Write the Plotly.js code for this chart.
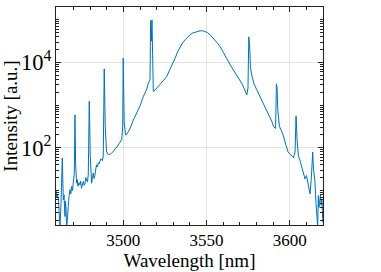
<!DOCTYPE html>
<html>
<head>
<meta charset="utf-8">
<script src="https://cdn.plot.ly/plotly-3.0.1.min.js"></script>
<style>html,body{margin:0;padding:0;background:#fff;}#chart{width:381px;height:272px;}</style>
</head>
<body>
<div id="chart"></div>
<script>
// Wavelength [nm]
const wavelength = [
3459.5,3459.9,3460.3,3460.9,3461.4,3461.9,3462.5,3463.3,3463.9,3464.3,3464.9,3465.2,3465.5,3465.9,3466.4,3466.9,3467.3,3467.9,
3468.4,3468.9,3469.4,3469.9,3470.5,3470.9,3471.3,3471.9,3472.3,3472.7,3473.3,3473.9,3474.3,3474.8,3475.3,3475.9,3476.4,3476.9,3477.4,3477.9,3478.4,3478.9,3479.5,3480.1,
3480.5,3480.9,3481.4,3481.9,3482.4,3482.9,3483.4,3483.9,3484.4,3484.9,3485.4,3485.9,3486.4,3486.9,3487.4,3487.9,3488.5,3489.1,3489.9,3490.9,3491.9,3492.9,3493.9,3494.9,
3496.2,3497.4,3498.3,3499.0,3499.6,3499.9,3500.5,3501.3,3502.0,3504.0,3506.0,3508.0,3510.0,3512.0,3514.1,3515.0,3516.0,
3516.4,3516.8,3517.2,3517.5,3518.0,3519.0,3520.5,3522.0,3524.0,3526.1,3528.1,3529.6,3531.1,3532.6,3534.1,3535.6,3537.1,3538.6,3540.1,3541.6,3543.1,3544.6,3546.1,3547.6,3549.1,3550.6,
3552.1,3553.6,3555.1,3556.6,3558.1,3559.6,3561.1,3562.6,3564.1,3565.6,3567.1,3568.6,3570.1,3571.3,3572.5,3573.4,3574.2,3574.9,3575.4,3575.9,3576.4,3577.1,3578.5,3580.2,
3582.1,3584.1,3586.2,3588.2,3589.2,3590.2,3591.5,3592.0,3592.4,3592.8,3593.8,3594.8,3596.2,3597.8,3599.0,3600.2,3601.2,
3602.2,3603.2,3603.8,3604.4,3605.2,3606.2,3606.8,3607.4,3608.3,3609.2,3610.1,3610.6,3611.2,3612.2,3613.0,3613.8,3614.3,3615.2,3615.8,
3616.2,3616.8,3617.2,3617.6,3617.9,3618.5,3618.9,3619.3,3619.9
];
// log10 of intensity [a.u.]
const log10Intensity = [
1.01,0.85,0.90,0.82,0.50,0.15,0.70,1.76,0.78,0.90,0.39,0.75,0.60,0.10,0.50,0.63,0.85,1.02,
0.92,1.09,1.00,1.21,1.40,2.77,1.60,1.17,1.25,1.10,1.18,1.13,1.22,1.05,1.15,1.21,1.12,1.15,1.30,1.25,1.20,1.37,3.09,1.80,
1.35,1.17,1.30,1.41,1.28,1.35,1.50,1.60,1.55,1.65,1.62,1.68,1.74,1.72,1.70,1.80,3.85,2.50,1.91,1.84,1.84,1.88,1.91,1.97,
2.02,2.10,2.14,2.19,2.50,4.10,2.60,2.30,2.31,2.45,2.65,2.81,2.98,3.20,3.38,3.52,3.59,
4.98,4.50,5.00,3.80,3.32,3.35,3.42,3.50,3.58,3.67,3.85,3.96,4.10,4.25,4.375,4.46,4.53,4.60,4.65,4.69,4.71,4.73,4.74,4.745,4.73,4.70,
4.65,4.59,4.52,4.45,4.375,4.28,4.17,4.06,3.95,3.86,3.77,3.68,3.59,3.50,3.40,3.33,3.24,3.40,4.60,4.40,3.90,3.71,3.50,3.36,
3.20,3.03,2.89,2.70,2.62,2.50,2.45,3.50,3.40,2.90,2.50,2.42,2.28,2.05,1.90,1.85,1.82,
1.77,1.90,2.75,2.20,1.81,1.70,1.62,1.50,1.38,1.27,1.35,1.22,1.15,0.92,1.30,1.90,1.50,1.19,0.70,
0.41,0.15,0.88,0.60,0.70,0.90,0.65,0.80,0.25
];
const intensity = log10Intensity.map(v => Math.pow(10, v));
const xTickVals = [3500, 3550, 3600];

const font = {family: '"Liberation Serif", "DejaVu Serif", serif', color: '#000'};

Plotly.newPlot('chart', [{
  x: wavelength, y: intensity, type: 'scatter', mode: 'lines',
  line: {color: '#0072BD', width: 1}, hoverinfo: 'skip'
}], {
  width: 381, height: 272,
  margin: {l: 56, r: 58, t: 7, b: 47},
  paper_bgcolor: '#fff', plot_bgcolor: '#fff',
  showlegend: false,
  font: Object.assign({size: 17}, font),
  xaxis: {
    range: [3459.5, 3620],
    tickmode: 'array', tickvals: xTickVals,
    ticks: 'inside', ticklen: 5, tickcolor: '#222', tickwidth: 1,
    showline: true, mirror: 'ticks', linecolor: '#222', linewidth: 1,
    showgrid: true, gridcolor: '#e3e3e3', gridwidth: 1,
    zeroline: false,
    tickfont: Object.assign({size: 17}, font),
    minor: {dtick: 10, tick0: 3500, ticks: 'inside', ticklen: 3, tickcolor: '#222', showgrid: false},
    title: {text: 'Wavelength [nm]', font: Object.assign({size: 19}, font), standoff: 3}
  },
  yaxis: {
    type: 'log',
    range: [0.19, 5.3],
    tickmode: 'linear', tick0: 0, dtick: 2,
    exponentformat: 'power',
    ticks: 'inside', ticklen: 5, tickcolor: '#222', tickwidth: 1,
    showline: true, mirror: 'ticks', linecolor: '#222', linewidth: 1,
    showgrid: true, gridcolor: '#e3e3e3', gridwidth: 1,
    zeroline: false,
    tickfont: Object.assign({size: 18}, font),
    minor: {dtick: 'D1', ticks: 'inside', ticklen: 3, tickcolor: '#222', showgrid: false},
    title: {text: 'Intensity [a.u.]', font: Object.assign({size: 19}, font), standoff: 3}
  }
}, {staticPlot: true, displayModeBar: false});
</script>
</body>
</html>
